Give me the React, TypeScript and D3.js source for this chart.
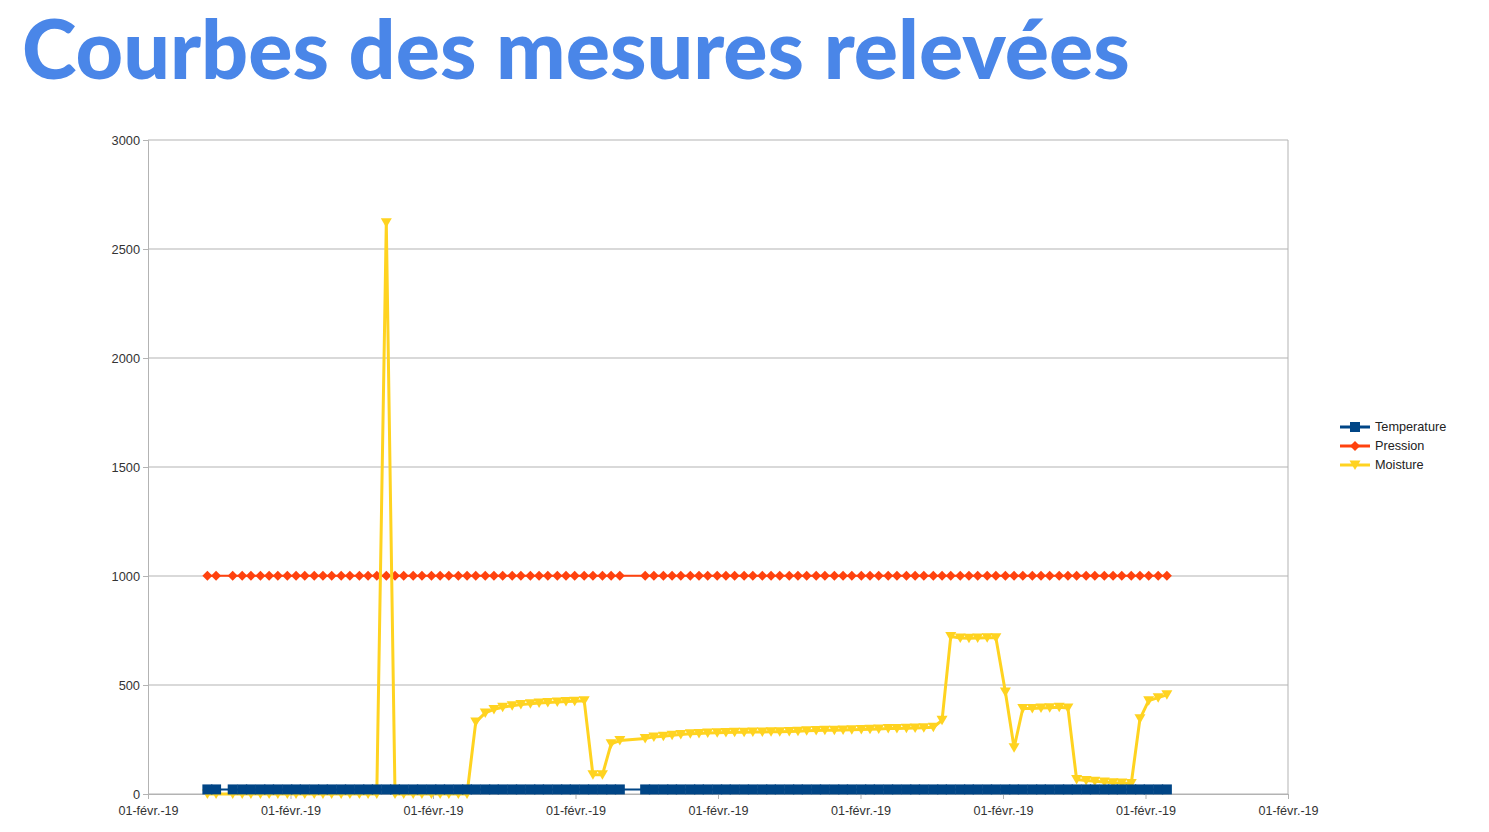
import React, { useEffect, useRef } from "react";
import * as d3 from "d3";

// minutes since midnight, 01-févr.-19 (the sampling has two holes)
const minutes = [
  75, 86,
  107, 119, 130, 142, 153, 164, 176, 187, 198, 210, 221, 232, 244, 255, 267, 278, 289, 301, 312, 323, 335, 346,
  358, 369, 380, 392, 403, 414, 426, 437, 448, 460, 471, 483, 494, 505, 517, 528, 539, 551, 562, 574, 585, 596,
  628, 639, 651, 662, 673, 685, 696, 707, 719, 730, 741, 753, 764, 776, 787, 798, 810, 821, 832, 844, 855, 867,
  878, 889, 901, 912, 923, 935, 946, 958, 969, 980, 992, 1003, 1014, 1026, 1037, 1048, 1060, 1071, 1083, 1094,
  1105, 1117, 1128, 1139, 1151, 1162, 1173, 1185, 1196, 1208, 1219, 1230, 1242, 1253, 1264, 1276, 1287,
];

// 105 readings each, ten per row
const temperature = [
  21, 21, 21, 21, 21, 21, 21, 21, 21, 21,
  21, 21, 21, 21, 21, 21, 21, 21, 21, 21,
  21, 21, 21, 21, 21, 21, 21, 21, 21, 21,
  21, 21, 21, 21, 21, 21, 21, 21, 21, 21,
  21, 21, 21, 21, 21, 21, 21, 21, 21, 21,
  21, 21, 21, 21, 21, 21, 21, 21, 21, 21,
  21, 21, 21, 21, 21, 21, 21, 21, 21, 21,
  21, 21, 21, 21, 21, 21, 21, 21, 21, 21,
  21, 21, 21, 21, 21, 21, 21, 21, 21, 21,
  21, 21, 21, 21, 21, 21, 21, 21, 21, 21,
  21, 21, 21, 21, 21,
];

const pression = [
  1001, 1001, 1001, 1001, 1001, 1001, 1001, 1001, 1001, 1001,
  1001, 1001, 1001, 1001, 1001, 1001, 1001, 1001, 1001, 1001,
  1001, 1001, 1001, 1001, 1001, 1001, 1001, 1001, 1001, 1001,
  1001, 1001, 1001, 1001, 1001, 1001, 1001, 1001, 1001, 1001,
  1001, 1001, 1001, 1001, 1001, 1001, 1001, 1001, 1001, 1001,
  1001, 1001, 1001, 1001, 1001, 1001, 1001, 1001, 1001, 1001,
  1001, 1001, 1001, 1001, 1001, 1001, 1001, 1001, 1001, 1001,
  1001, 1001, 1001, 1001, 1001, 1001, 1001, 1001, 1001, 1001,
  1001, 1001, 1001, 1001, 1001, 1001, 1001, 1001, 1001, 1001,
  1001, 1001, 1001, 1001, 1001, 1001, 1001, 1001, 1001, 1001,
  1001, 1001, 1001, 1001, 1001,
];

const moisture = [
  0, 0, 0, 0, 0, 0, 0, 0, 0, 0,
  0, 0, 0, 0, 0, 0, 0, 0, 0, 2620,
  0, 0, 0, 0, 0, 0, 0, 0, 0, 330,
  372, 388, 398, 405, 410, 414, 417, 420, 422, 424,
  426, 428, 88, 88, 230, 245, 255, 262, 265, 270,
  273, 276, 278, 280, 281, 282, 283, 283, 284, 284,
  285, 286, 287, 288, 290, 291, 292, 293, 294, 295,
  296, 297, 298, 300, 301, 302, 303, 304, 306, 338,
  722, 716, 715, 716, 717, 717, 468, 212, 392, 392,
  394, 396, 398, 395, 66, 62, 58, 55, 52, 50,
  48, 345, 428, 442, 455,
];

const seriesNames = ["Temperature", "Pression", "Moisture"];
const yTicks = [0, 500, 1000, 1500, 2000, 2500, 3000];
const xTicks = [0, 180, 360, 540, 720, 900, 1080, 1260, 1440];
const xTickLabel = "01-févr.-19";

const colors: { [k: string]: string } = {
  Temperature: "#004586",
  Pression: "#ff420e",
  Moisture: "#ffd320",
};

const markerPath = (name: string) => {
  if (name === "Temperature") return "M-5,-5L5,-5L5,5L-5,5Z";
  if (name === "Pression") return "M0,-5L5,0L0,5L-5,0Z";
  return "M-5.5,-4.5L5.5,-4.5L0,5Z";
};

const App: React.FC = () => {
  const svgRef = useRef<SVGSVGElement | null>(null);

  useEffect(() => {
    if (!svgRef.current) return;
    const svg = d3.select(svgRef.current);
    svg.selectAll("*").remove();

    const x = d3.scaleLinear().domain([0, 1440]).range([148, 1288]);
    const y = d3.scaleLinear().domain([0, 3000]).range([794, 140]);

    // title, font size adjusted so that it spans the same width as in the slide
    const title = svg.append("text")
      .attr("x", 22)
      .attr("y", 79)
      .style("font-family", "Lato, 'Open Sans', sans-serif")
      .style("font-weight", 900)
      .style("font-size", "82px")
      .style("fill", "#4a86e8")
      .text("Courbes des mesures relevées");
    const w = (title.node() as SVGTextElement).getComputedTextLength();
    if (w > 0) title.style("font-size", `${Math.min(90, (82 * 1108) / w)}px`);

    const g = svg.append("g");

    // grid
    g.selectAll(".grid")
      .data(yTicks)
      .enter()
      .append("line")
      .attr("x1", x(0))
      .attr("x2", x(1440))
      .attr("y1", (d) => y(d))
      .attr("y2", (d) => y(d))
      .style("stroke", "#b3b3b3")
      .style("stroke-width", 1);

    // y axis
    const yAxis = g.append("g").attr("transform", `translate(${x(0)},0)`)
      .call(d3.axisLeft(y).tickValues(yTicks).tickSize(5).tickPadding(3).tickFormat(d3.format("d")));
    yAxis.select(".domain").attr("stroke", "#b3b3b3");
    yAxis.selectAll(".tick line").attr("stroke", "#b3b3b3");
    yAxis.selectAll("text")
      .style("font-family", "'Liberation Sans', Arial, sans-serif")
      .style("font-size", "12.8px")
      .style("fill", "#333");

    // right border
    g.append("line")
      .attr("x1", x(1440)).attr("x2", x(1440))
      .attr("y1", y(3000)).attr("y2", y(0))
      .style("stroke", "#b3b3b3");

    // x axis
    const xAxis = g.append("g").attr("transform", `translate(0,${y(0)})`)
      .call(d3.axisBottom(x).tickValues(xTicks).tickSize(5).tickPadding(7).tickFormat(() => xTickLabel));
    xAxis.select(".domain").attr("stroke", "#b3b3b3");
    xAxis.selectAll(".tick line").attr("stroke", "#b3b3b3");
    xAxis.selectAll("text")
      .style("font-family", "'Liberation Sans', Arial, sans-serif")
      .style("font-size", "12.6px")
      .style("fill", "#333");

    const seriesData: { [k: string]: number[] } = {
      Temperature: temperature,
      Pression: pression,
      Moisture: moisture,
    };

    const line = d3.line<number>()
      .x((_, i) => x(minutes[i]))
      .y((d) => y(d));

    // draw order: pression, moisture, then temperature on top
    ["Pression", "Moisture", "Temperature"].forEach((name) => {
      const values = seriesData[name].slice(0, minutes.length);
      const sg = g.append("g");
      sg.append("path")
        .attr("d", line(values) as string)
        .style("fill", "none")
        .style("stroke", colors[name])
        .style("stroke-width", name === "Moisture" ? 3 : 2)
        .style("stroke-linejoin", "round");
      sg.selectAll(".marker")
        .data(values)
        .enter()
        .append("path")
        .attr("d", markerPath(name))
        .attr("transform", (d, i) => `translate(${x(minutes[i])},${y(d)})`)
        .style("fill", colors[name]);
    });

    // legend
    const legend = svg.append("g").attr("transform", "translate(1340,427)");
    seriesNames.forEach((name, i) => {
      const lg = legend.append("g").attr("transform", `translate(0,${i * 19})`);
      lg.append("line")
        .attr("x1", 0).attr("x2", 30)
        .style("stroke", colors[name])
        .style("stroke-width", 3);
      lg.append("path")
        .attr("d", markerPath(name))
        .attr("transform", "translate(15,0)")
        .style("fill", colors[name]);
      lg.append("text")
        .attr("x", 35)
        .attr("dy", "0.35em")
        .style("font-family", "'Liberation Sans', Arial, sans-serif")
        .style("font-size", "12.7px")
        .style("fill", "#222")
        .text(name);
    });
  }, []);

  return (
    <div>
      <svg
        ref={svgRef}
        width={1489}
        height={832}
        style={{ position: "absolute", left: 0, top: 0, background: "#fff" }}
      />
    </div>
  );
};

export default App;
